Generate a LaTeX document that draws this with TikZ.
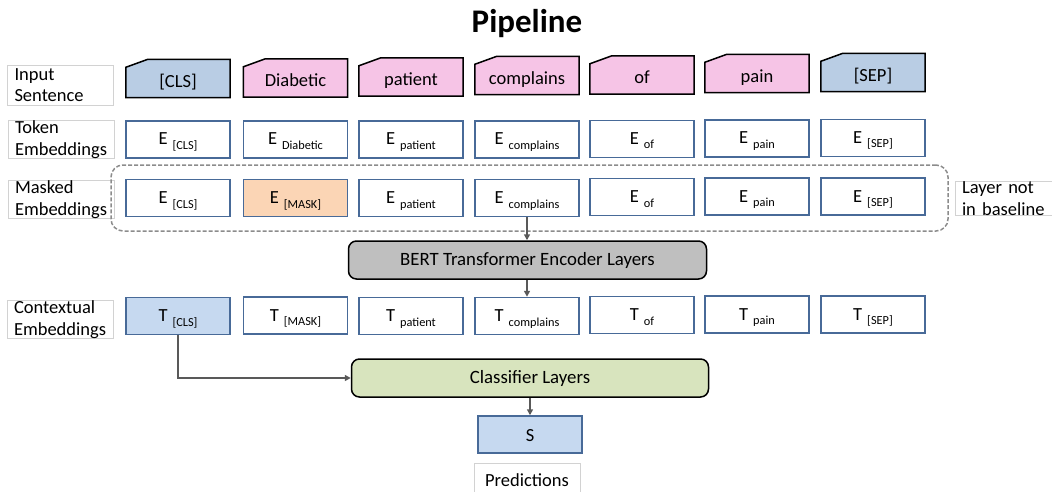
\documentclass[tikz,border=0pt]{standalone}
\usepackage{fontspec}
\setmainfont{Carlito}
\usetikzlibrary{arrows.meta,backgrounds}
\definecolor{bluein}{RGB}{185,205,228}
\definecolor{pinkin}{RGB}{246,196,230}
\definecolor{maskor}{RGB}{251,213,181}
\definecolor{ctxblue}{RGB}{198,217,240}
\definecolor{embborder}{RGB}{72,106,152}
\definecolor{bertgray}{RGB}{191,191,191}
\definecolor{clsgreen}{RGB}{216,228,190}
\definecolor{arrgray}{RGB}{89,89,89}
\definecolor{lblgray}{RGB}{210,210,210}
\definecolor{dashgray}{RGB}{140,140,140}
\newcommand{\emb}[2]{#1\hspace{5pt}\raisebox{-4.5pt}{\fontsize{12.3}{12.3}\selectfont #2}}
\newcommand{\inbox}[5]{%
  \node[inp] (#1) at (#2,#3) {#5};
  \begin{scope}[on background layer]
    \filldraw[fill=#4, draw=black, line width=1.5pt, line join=miter]
      (#1.south west) -- ([yshift=-8pt]#1.north west) -- ([xshift=22pt]#1.north west)
      -- (#1.north east) -- (#1.south east) -- cycle;
  \end{scope}}
\begin{document}
\begin{tikzpicture}[x=1pt,y=-1pt,
  lbl/.style={draw=lblgray, line width=0.8pt, minimum width=106pt, minimum height=35pt,
    inner sep=0pt, font=\fontsize{18.5}{21.5}\selectfont, align=left, text width=92pt},
  inp/.style={minimum width=104pt, minimum height=38pt, inner sep=0pt,
    font=\fontsize{18.5}{18.5}\selectfont, text height=20pt, text depth=2pt},
  embbox/.style={draw=embborder, line width=1.5pt, minimum width=104pt, minimum height=37pt,
    inner sep=0pt, fill=white, font=\fontsize{18.5}{18.5}\selectfont, text height=14pt, text depth=3pt},
  layerbox/.style={draw=black, line width=1.5pt, rounded corners=8pt, minimum height=38pt,
    inner sep=0pt, font=\fontsize{18.8}{18.8}\selectfont, text height=14pt, text depth=3pt},
  arr/.style={draw=arrgray, line width=1.8pt, -{Triangle[length=6pt,width=6pt]}},
  dashbox/.style={draw=dashgray, line width=1.5pt, dash pattern=on 4pt off 2pt, rounded corners=12pt}
]
\useasboundingbox (0,0) rectangle (1052,492);

% title
\node[font=\fontsize{33}{33}\selectfont\bfseries, anchor=base, inner sep=0pt] (title) at (527,33) {Pipeline};

% row labels
\node[lbl, minimum height=40pt] (lin) at (60.5,85) {Input\\Sentence};
\node[lbl] (ltok) at (61,139.5) {Token\\Embeddings};
\node[lbl] (lmask) at (61,199.5) {Masked\\Embeddings};
\node[lbl] (lctx) at (60,319.5) {Contextual\\Embeddings};
\node[lbl, minimum width=112pt, minimum height=31pt, text width=98pt] (lnot) at (1011,198.5) {Layer not\\in baseline};

% dashed box (masked layer)
\node[dashbox, minimum width=837pt, minimum height=66pt] (maskgrp) at (529.5,198) {};

% input sentence
\inbox{i1}{178}{78.5}{bluein}{[CLS]}
\inbox{i2}{295.5}{78}{pinkin}{Diabetic}
\inbox{i3}{411}{77}{pinkin}{patient}
\inbox{i4}{527}{75.5}{pinkin}{complains}
\inbox{i5}{642}{75}{pinkin}{of}
\inbox{i6}{757}{73.5}{pinkin}{pain}
\inbox{i7}{873}{72.5}{bluein}{[SEP]}

% token embeddings
\node[embbox] (e1) at (178,139.5) {\emb{E}{[CLS]}};
\node[embbox] (e2) at (295.5,139.5) {\emb{E}{Diabetic}};
\node[embbox] (e3) at (411,139.5) {\emb{E}{patient}};
\node[embbox] (e4) at (527,139.5) {\emb{E}{complains}};
\node[embbox] (e5) at (642,139) {\emb{E}{of}};
\node[embbox] (e6) at (757,138.5) {\emb{E}{pain}};
\node[embbox] (e7) at (873,138) {\emb{E}{[SEP]}};

% masked embeddings
\node[embbox] (m1) at (178,198) {\emb{E}{[CLS]}};
\node[embbox, fill=maskor] (m2) at (295.5,198) {\emb{E}{[MASK]}};
\node[embbox] (m3) at (411,198) {\emb{E}{patient}};
\node[embbox] (m4) at (527,198) {\emb{E}{complains}};
\node[embbox] (m5) at (642,197) {\emb{E}{of}};
\node[embbox] (m6) at (757,196.5) {\emb{E}{pain}};
\node[embbox] (m7) at (873,196.5) {\emb{E}{[SEP]}};

% BERT
\node[layerbox, fill=bertgray, minimum width=358pt] (bert) at (527.5,260) {BERT Transformer Encoder Layers};

% contextual embeddings
\node[embbox, fill=ctxblue] (t1) at (178,316) {\emb{T}{[CLS]}};
\node[embbox] (t2) at (295.5,315.5) {\emb{T}{[MASK]}};
\node[embbox] (t3) at (411,316) {\emb{T}{patient}};
\node[embbox] (t4) at (527,316) {\emb{T}{complains}};
\node[embbox] (t5) at (642,315) {\emb{T}{of}};
\node[embbox] (t6) at (757,314.5) {\emb{T}{pain}};
\node[embbox] (t7) at (873,314.5) {\emb{T}{[SEP]}};

% classifier
\node[layerbox, fill=clsgreen, minimum width=357pt] (cls) at (530,378) {Classifier Layers};

% S
\node[embbox, fill=ctxblue, text height=15pt, text depth=1pt] (s) at (530,434.5) {S};

% predictions
\node[draw=lblgray, line width=0.8pt, minimum width=106pt, minimum height=36pt, inner sep=0pt,
  font=\fontsize{18.5}{18.5}\selectfont, text height=13pt, text depth=3pt] (pred) at (527,481) {Predictions};

% connectors
\draw[arr] (m4.south) -- (m4.south |- bert.north);
\draw[arr] (bert.south -| t4.north) -- (t4.north);
\draw[arr] (t1.south) |- (cls.west);
\draw[arr] (cls.south) -- (s.north);
\end{tikzpicture}
\end{document}
